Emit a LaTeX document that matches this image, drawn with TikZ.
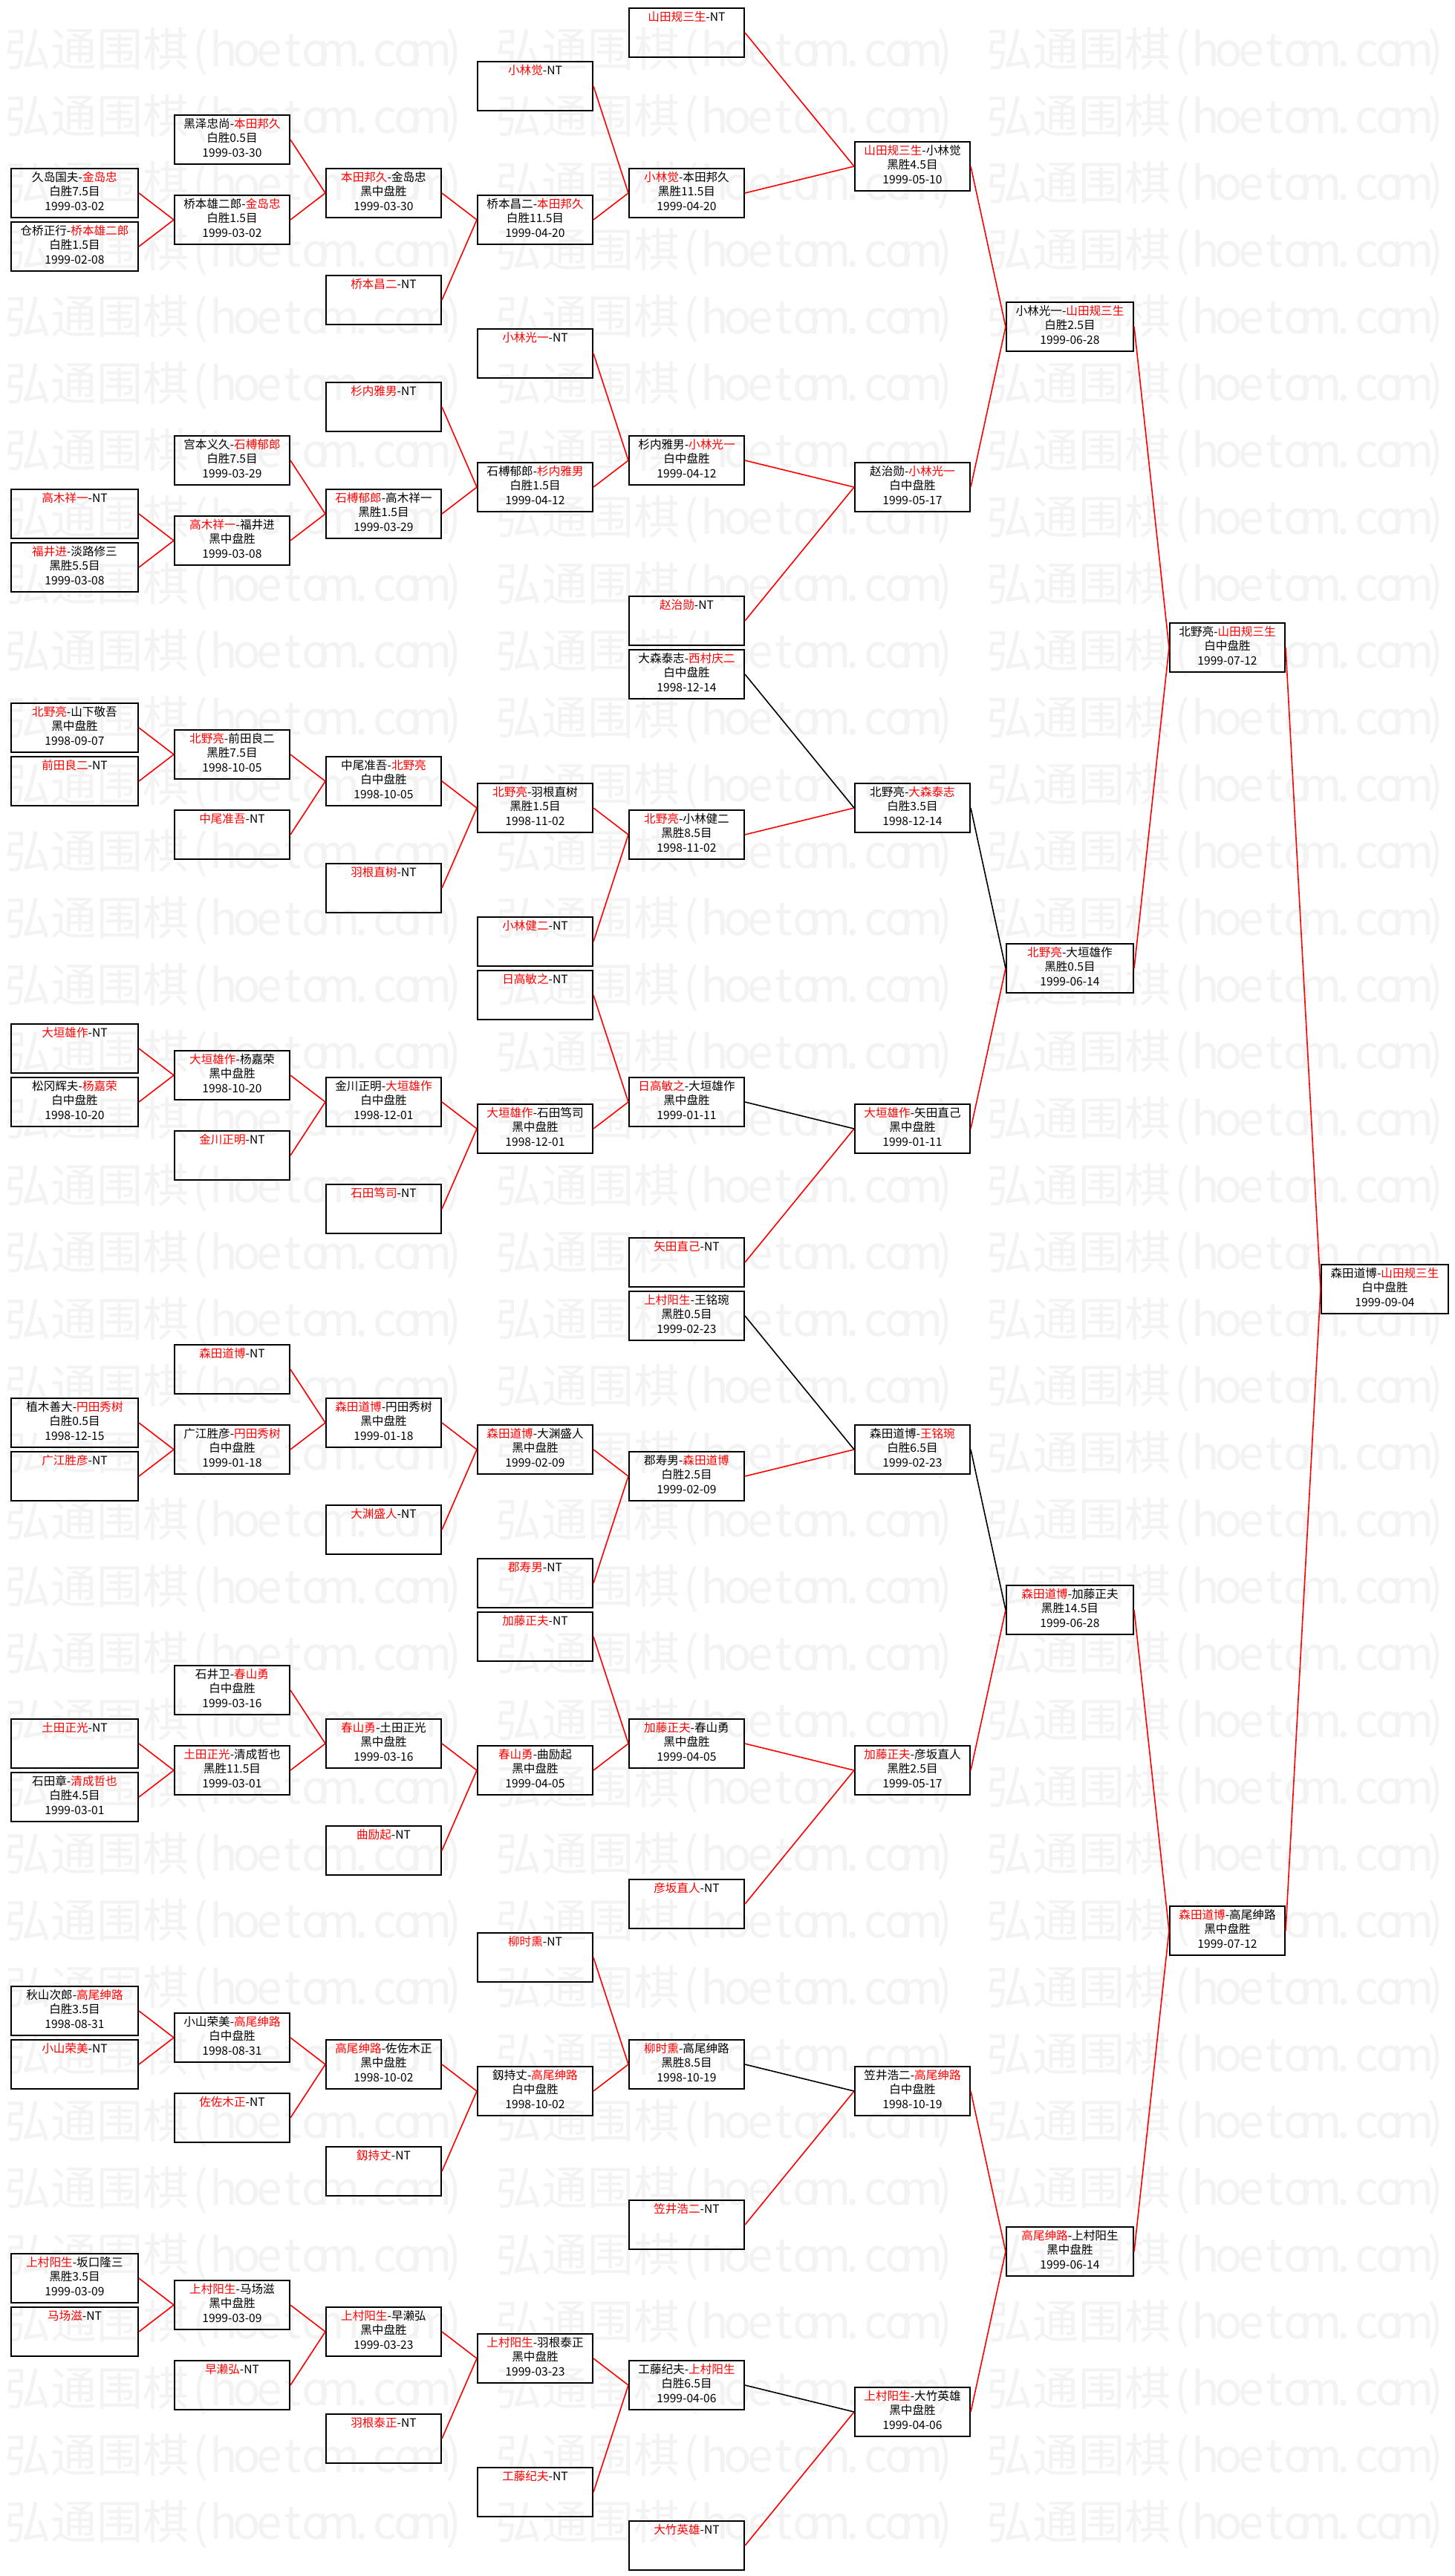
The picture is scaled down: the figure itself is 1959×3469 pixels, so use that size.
\documentclass[tikz,border=0pt]{standalone}
\usepackage{fontspec}
\newfontfamily\cjk{Noto Sans CJK SC}
\definecolor{wmgray}{HTML}{F3F3F3}
\definecolor{lred}{HTML}{FF0000}
\newcommand\R[1]{\textcolor{lred}{#1}}
\newcommand\threeln[3]{\strut#1\\\strut#2\\\strut#3}
\newcommand\oneln[1]{\strut#1\\\strut\\\strut}
\newcommand\wmc[1]{\makebox[0.5em]{#1}}
\newcommand\wmtext{弘通围棋\wmc{(}\wmc{h}\wmc{o}\wmc{e}\wmc{t}\wmc{o}\wmc{m}\wmc{.}\wmc{c}\wmc{o}\wmc{m}\wmc{)}}
\tikzset{
  bx/.style={draw=black, line width=1pt, anchor=north west, minimum height=33pt,
    inner sep=0pt, align=center, text=black,
    font=\cjk\fontsize{7.8pt}{9.75pt}\selectfont},
  wA/.style={minimum width=85.5pt},
  wB/.style={minimum width=77.5pt},
  rl/.style={draw=lred, line width=0.8pt},
  bl/.style={draw=black, line width=0.8pt},
  wm/.style={anchor=base west, inner sep=0pt, text=wmgray,
    font=\cjk\fontsize{31pt}{31pt}\selectfont},
}
\begin{document}
\begin{tikzpicture}[x=0.5pt, y=-0.5pt]
\useasboundingbox (0,0) rectangle (1959,3469);
\fill[white] (0,0) rectangle (1959,3469);
\foreach \k in {0,...,37}{\foreach \j in {0,1,2}{
  \node[wm] (wm-\k-\j) at ({6+661*\j},{89+90*\k}) {\wmtext};}}
% column 1
\node[bx,wA] (a06) at (14,226)  {\threeln{久岛国夫-\R{金岛忠}}{白胜7.5目}{1999-03-02}};
\node[bx,wA] (a08) at (14,298)  {\threeln{仓桥正行-\R{桥本雄二郎}}{白胜1.5目}{1999-02-08}};
\node[bx,wA] (a18) at (14,658)  {\oneln{\R{高木祥一}-NT}};
\node[bx,wA] (a20) at (14,730)  {\threeln{\R{福井进}-淡路修三}{黑胜5.5目}{1999-03-08}};
\node[bx,wA] (a26) at (14,946)  {\threeln{\R{北野亮}-山下敬吾}{黑中盘胜}{1998-09-07}};
\node[bx,wA] (a28) at (14,1018) {\oneln{\R{前田良二}-NT}};
\node[bx,wA] (a38) at (14,1378) {\oneln{\R{大垣雄作}-NT}};
\node[bx,wA] (a40) at (14,1450) {\threeln{松冈辉夫-\R{杨嘉荣}}{白中盘胜}{1998-10-20}};
\node[bx,wA] (a52) at (14,1882) {\threeln{植木善大-\R{円田秀树}}{白胜0.5目}{1998-12-15}};
\node[bx,wA] (a54) at (14,1954) {\oneln{\R{广江胜彦}-NT}};
\node[bx,wA] (a64) at (14,2314) {\oneln{\R{土田正光}-NT}};
\node[bx,wA] (a66) at (14,2386) {\threeln{石田章-\R{清成哲也}}{白胜4.5目}{1999-03-01}};
\node[bx,wA] (a74) at (14,2674) {\threeln{秋山次郎-\R{高尾绅路}}{白胜3.5目}{1998-08-31}};
\node[bx,wA] (a76) at (14,2746) {\oneln{\R{小山荣美}-NT}};
\node[bx,wA] (a84) at (14,3034) {\threeln{\R{上村阳生}-坂口隆三}{黑胜3.5目}{1999-03-09}};
\node[bx,wA] (a86) at (14,3106) {\oneln{\R{马场滋}-NT}};
% column 2
\node[bx,wB] (b04) at (234,154)  {\threeln{黑泽忠尚-\R{本田邦久}}{白胜0.5目}{1999-03-30}};
\node[bx,wB] (b07) at (234,262)  {\threeln{桥本雄二郎-\R{金岛忠}}{白胜1.5目}{1999-03-02}};
\node[bx,wB] (b16) at (234,586)  {\threeln{宫本义久-\R{石榑郁郎}}{白胜7.5目}{1999-03-29}};
\node[bx,wB] (b19) at (234,694)  {\threeln{\R{高木祥一}-福井进}{黑中盘胜}{1999-03-08}};
\node[bx,wB] (b27) at (234,982)  {\threeln{\R{北野亮}-前田良二}{黑胜7.5目}{1998-10-05}};
\node[bx,wB] (b30) at (234,1090) {\oneln{\R{中尾准吾}-NT}};
\node[bx,wB] (b39) at (234,1414) {\threeln{\R{大垣雄作}-杨嘉荣}{黑中盘胜}{1998-10-20}};
\node[bx,wB] (b42) at (234,1522) {\oneln{\R{金川正明}-NT}};
\node[bx,wB] (b50) at (234,1810) {\oneln{\R{森田道博}-NT}};
\node[bx,wB] (b53) at (234,1918) {\threeln{广江胜彦-\R{円田秀树}}{白中盘胜}{1999-01-18}};
\node[bx,wB] (b62) at (234,2242) {\threeln{石井卫-\R{春山勇}}{白中盘胜}{1999-03-16}};
\node[bx,wB] (b65) at (234,2350) {\threeln{\R{土田正光}-清成哲也}{黑胜11.5目}{1999-03-01}};
\node[bx,wB] (b75) at (234,2710) {\threeln{小山荣美-\R{高尾绅路}}{白中盘胜}{1998-08-31}};
\node[bx,wB] (b78) at (234,2818) {\oneln{\R{佐佐木正}-NT}};
\node[bx,wB] (b85) at (234,3070) {\threeln{\R{上村阳生}-马场滋}{黑中盘胜}{1999-03-09}};
\node[bx,wB] (b88) at (234,3178) {\oneln{\R{早濑弘}-NT}};
% column 3
\node[bx,wB] (c06) at (438,226)  {\threeln{\R{本田邦久}-金岛忠}{黑中盘胜}{1999-03-30}};
\node[bx,wB] (c10) at (438,370)  {\oneln{\R{桥本昌二}-NT}};
\node[bx,wB] (c14) at (438,514)  {\oneln{\R{杉内雅男}-NT}};
\node[bx,wB] (c18) at (438,658)  {\threeln{\R{石榑郁郎}-高木祥一}{黑胜1.5目}{1999-03-29}};
\node[bx,wB] (c28) at (438,1018) {\threeln{中尾准吾-\R{北野亮}}{白中盘胜}{1998-10-05}};
\node[bx,wB] (c32) at (438,1162) {\oneln{\R{羽根直树}-NT}};
\node[bx,wB] (c40) at (438,1450) {\threeln{金川正明-\R{大垣雄作}}{白中盘胜}{1998-12-01}};
\node[bx,wB] (c44) at (438,1594) {\oneln{\R{石田笃司}-NT}};
\node[bx,wB] (c52) at (438,1882) {\threeln{\R{森田道博}-円田秀树}{黑中盘胜}{1999-01-18}};
\node[bx,wB] (c56) at (438,2026) {\oneln{\R{大渊盛人}-NT}};
\node[bx,wB] (c64) at (438,2314) {\threeln{\R{春山勇}-土田正光}{黑中盘胜}{1999-03-16}};
\node[bx,wB] (c68) at (438,2458) {\oneln{\R{曲励起}-NT}};
\node[bx,wB] (c76) at (438,2746) {\threeln{\R{高尾绅路}-佐佐木正}{黑中盘胜}{1998-10-02}};
\node[bx,wB] (c80) at (438,2890) {\oneln{\R{釼持丈}-NT}};
\node[bx,wB] (c86) at (438,3106) {\threeln{\R{上村阳生}-早濑弘}{黑中盘胜}{1999-03-23}};
\node[bx,wB] (c90) at (438,3250) {\oneln{\R{羽根泰正}-NT}};
% column 4
\node[bx,wB] (d02) at (642,82)   {\oneln{\R{小林觉}-NT}};
\node[bx,wB] (d07) at (642,262)  {\threeln{桥本昌二-\R{本田邦久}}{白胜11.5目}{1999-04-20}};
\node[bx,wB] (d12) at (642,442)  {\oneln{\R{小林光一}-NT}};
\node[bx,wB] (d17) at (642,622)  {\threeln{石榑郁郎-\R{杉内雅男}}{白胜1.5目}{1999-04-12}};
\node[bx,wB] (d29) at (642,1054) {\threeln{\R{北野亮}-羽根直树}{黑胜1.5目}{1998-11-02}};
\node[bx,wB] (d34) at (642,1234) {\oneln{\R{小林健二}-NT}};
\node[bx,wB] (d36) at (642,1306) {\oneln{\R{日高敏之}-NT}};
\node[bx,wB] (d41) at (642,1486) {\threeln{\R{大垣雄作}-石田笃司}{黑中盘胜}{1998-12-01}};
\node[bx,wB] (d53) at (642,1918) {\threeln{\R{森田道博}-大渊盛人}{黑中盘胜}{1999-02-09}};
\node[bx,wB] (d58) at (642,2098) {\oneln{\R{郡寿男}-NT}};
\node[bx,wB] (d60) at (642,2170) {\oneln{\R{加藤正夫}-NT}};
\node[bx,wB] (d65) at (642,2350) {\threeln{\R{春山勇}-曲励起}{黑中盘胜}{1999-04-05}};
\node[bx,wB] (d72) at (642,2602) {\oneln{\R{柳时熏}-NT}};
\node[bx,wB] (d77) at (642,2782) {\threeln{釼持丈-\R{高尾绅路}}{白中盘胜}{1998-10-02}};
\node[bx,wB] (d87) at (642,3142) {\threeln{\R{上村阳生}-羽根泰正}{黑中盘胜}{1999-03-23}};
\node[bx,wB] (d92) at (642,3322) {\oneln{\R{工藤纪夫}-NT}};
% column 5
\node[bx,wB] (e00) at (846,10)   {\oneln{\R{山田规三生}-NT}};
\node[bx,wB] (e06) at (846,226)  {\threeln{\R{小林觉}-本田邦久}{黑胜11.5目}{1999-04-20}};
\node[bx,wB] (e16) at (846,586)  {\threeln{杉内雅男-\R{小林光一}}{白中盘胜}{1999-04-12}};
\node[bx,wB] (e22) at (846,802)  {\oneln{\R{赵治勋}-NT}};
\node[bx,wB] (e24) at (846,874)  {\threeln{大森泰志-\R{西村庆二}}{白中盘胜}{1998-12-14}};
\node[bx,wB] (e30) at (846,1090) {\threeln{\R{北野亮}-小林健二}{黑胜8.5目}{1998-11-02}};
\node[bx,wB] (e40) at (846,1450) {\threeln{\R{日高敏之}-大垣雄作}{黑中盘胜}{1999-01-11}};
\node[bx,wB] (e46) at (846,1666) {\oneln{\R{矢田直己}-NT}};
\node[bx,wB] (e48) at (846,1738) {\threeln{\R{上村阳生}-王铭琬}{黑胜0.5目}{1999-02-23}};
\node[bx,wB] (e54) at (846,1954) {\threeln{郡寿男-\R{森田道博}}{白胜2.5目}{1999-02-09}};
\node[bx,wB] (e64) at (846,2314) {\threeln{\R{加藤正夫}-春山勇}{黑中盘胜}{1999-04-05}};
\node[bx,wB] (e70) at (846,2530) {\oneln{\R{彦坂直人}-NT}};
\node[bx,wB] (e76) at (846,2746) {\threeln{\R{柳时熏}-高尾绅路}{黑胜8.5目}{1998-10-19}};
\node[bx,wB] (e82) at (846,2962) {\oneln{\R{笠井浩二}-NT}};
\node[bx,wB] (e88) at (846,3178) {\threeln{工藤纪夫-\R{上村阳生}}{白胜6.5目}{1999-04-06}};
\node[bx,wB] (e94) at (846,3394) {\oneln{\R{大竹英雄}-NT}};
% column 6
\node[bx,wB] (f05) at (1150,190)  {\threeln{\R{山田规三生}-小林觉}{黑胜4.5目}{1999-05-10}};
\node[bx,wB] (f17) at (1150,622)  {\threeln{赵治勋-\R{小林光一}}{白中盘胜}{1999-05-17}};
\node[bx,wB] (f29) at (1150,1054) {\threeln{北野亮-\R{大森泰志}}{白胜3.5目}{1998-12-14}};
\node[bx,wB] (f41) at (1150,1486) {\threeln{\R{大垣雄作}-矢田直己}{黑中盘胜}{1999-01-11}};
\node[bx,wB] (f53) at (1150,1918) {\threeln{森田道博-\R{王铭琬}}{白胜6.5目}{1999-02-23}};
\node[bx,wB] (f65) at (1150,2350) {\threeln{\R{加藤正夫}-彦坂直人}{黑胜2.5目}{1999-05-17}};
\node[bx,wB] (f77) at (1150,2782) {\threeln{笠井浩二-\R{高尾绅路}}{白中盘胜}{1998-10-19}};
\node[bx,wB] (f89) at (1150,3214) {\threeln{\R{上村阳生}-大竹英雄}{黑中盘胜}{1999-04-06}};
% column 7
\node[bx,wA] (g11) at (1354,406)  {\threeln{小林光一-\R{山田规三生}}{白胜2.5目}{1999-06-28}};
\node[bx,wA] (g35) at (1354,1270) {\threeln{\R{北野亮}-大垣雄作}{黑胜0.5目}{1999-06-14}};
\node[bx,wA] (g59) at (1354,2134) {\threeln{\R{森田道博}-加藤正夫}{黑胜14.5目}{1999-06-28}};
\node[bx,wA] (g83) at (1354,2998) {\threeln{\R{高尾绅路}-上村阳生}{黑中盘胜}{1999-06-14}};
% column 8
\node[bx,wB] (h23) at (1574,838)  {\threeln{北野亮-\R{山田规三生}}{白中盘胜}{1999-07-12}};
\node[bx,wB] (h71) at (1574,2566) {\threeln{\R{森田道博}-高尾绅路}{黑中盘胜}{1999-07-12}};
% column 9
\node[bx,wA] (i47) at (1778,1702) {\threeln{森田道博-\R{山田规三生}}{白中盘胜}{1999-09-04}};
% red connectors
\foreach \p/\q in {a06/b07,a08/b07,a18/b19,a20/b19,a26/b27,a28/b27,a38/b39,a40/b39,
  a52/b53,a54/b53,a64/b65,a66/b65,a74/b75,a76/b75,a84/b85,a86/b85,
  b04/c06,b07/c06,b16/c18,b19/c18,b27/c28,b30/c28,b39/c40,b42/c40,
  b50/c52,b53/c52,b62/c64,b65/c64,b75/c76,b78/c76,b85/c86,b88/c86,
  c06/d07,c10/d07,c14/d17,c18/d17,c28/d29,c32/d29,c40/d41,c44/d41,
  c52/d53,c56/d53,c64/d65,c68/d65,c76/d77,c80/d77,c86/d87,c90/d87,
  d02/e06,d07/e06,d12/e16,d17/e16,d29/e30,d34/e30,d36/e40,d41/e40,
  d53/e54,d58/e54,d60/e64,d65/e64,d72/e76,d77/e76,d87/e88,d92/e88,
  e00/f05,e06/f05,e16/f17,e22/f17,e30/f29,e46/f41,e54/f53,e64/f65,e70/f65,e82/f77,e94/f89,
  f05/g11,f17/g11,f41/g35,f65/g59,f77/g83,f89/g83,
  g11/h23,g35/h23,g59/h71,g83/h71,h23/i47,h71/i47}
  {\draw[rl] (\p.east) -- (\q.west);}
% black connectors
\foreach \p/\q in {e24/f29,e40/f41,e48/f53,e76/f77,e88/f89,f29/g35,f53/g59}
  {\draw[bl] (\p.east) -- (\q.west);}
\end{tikzpicture}
\end{document}
